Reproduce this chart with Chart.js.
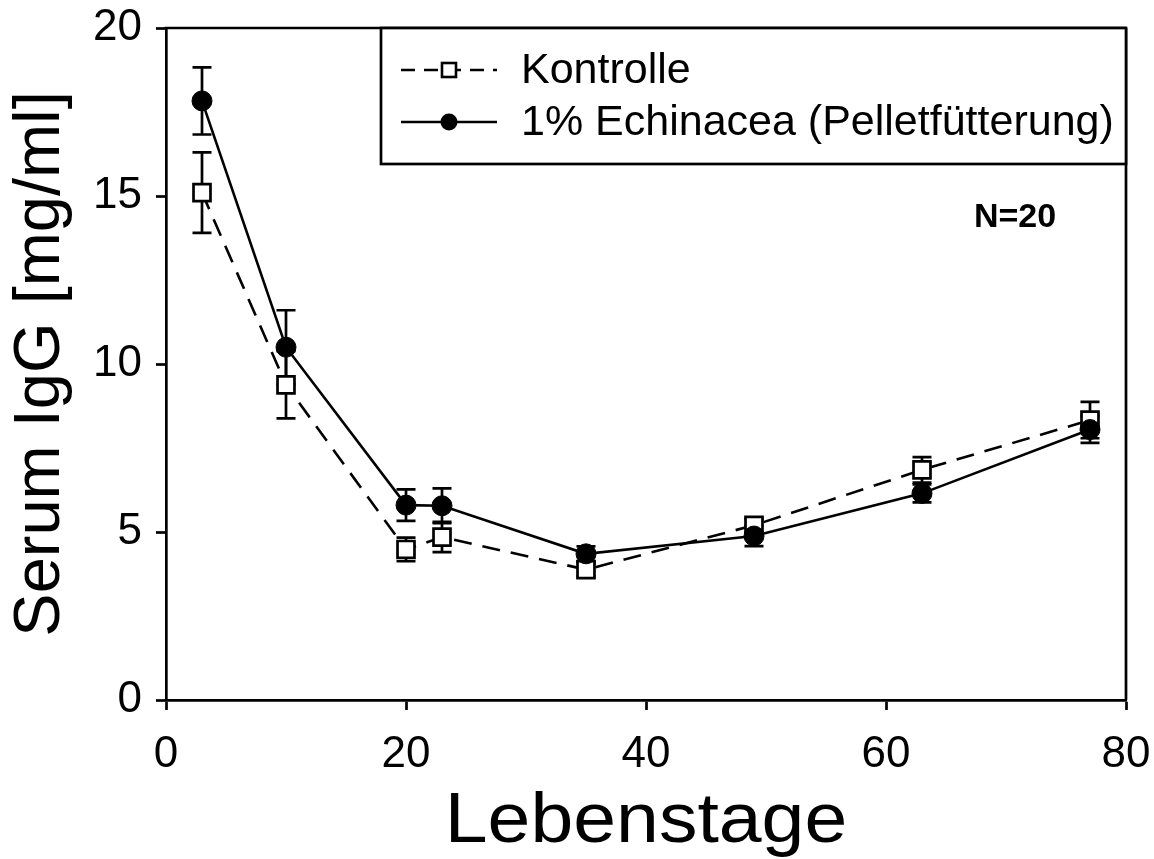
<!DOCTYPE html>
<html>
<head>
<meta charset="utf-8">
<script src="https://cdn.jsdelivr.net/npm/chart.js@4.4.1/dist/chart.umd.min.js"></script>
<style>
html,body{margin:0;padding:0;background:#fff;}
#wrap{width:1154px;height:859px;}
</style>
</head>
<body>
<div id="wrap"><canvas id="c" width="1154" height="859"></canvas></div>
<script>
// ---- data ----
const days = [3, 10, 20, 23, 35, 49, 63, 77];
const kontrolle = [15.1, 9.38, 4.48, 4.85, 3.88, 5.2, 6.85, 8.33];
const kontrolleErr = [1.2, 1.0, 0.35, 0.45, 0.2, 0.2, 0.38, 0.54];
const echinacea = [17.83, 10.5, 5.8, 5.78, 4.35, 4.88, 6.15, 8.05];
const echinaceaErr = [1.0, 1.1, 0.47, 0.52, 0.22, 0.3, 0.27, 0.4];
const xTicks = [0, 20, 40, 60, 80];
const yTicks = [0, 5, 10, 15, 20];
const labelKontrolle = 'Kontrolle';
const labelEchinacea = '1% Echinacea (Pelletfütterung)';
const annotation = 'N=20';
const xTitle = 'Lebenstage';
const yTitle = 'Serum IgG [mg/ml]';

const FONT = "'Liberation Sans', Arial, sans-serif";
const toPts = (xs, ys) => xs.map((x, i) => ({x: x, y: ys[i]}));

const errorBars = {
  id: 'errorBars',
  beforeDatasetsDraw(chart) {
    const ctx = chart.ctx, xs = chart.scales.x, ys = chart.scales.y;
    const sets = [[kontrolle, kontrolleErr], [echinacea, echinaceaErr]];
    ctx.save();
    ctx.strokeStyle = '#000';
    ctx.lineWidth = 2.7;
    ctx.setLineDash([]);
    sets.forEach(([vals, errs]) => {
      days.forEach((d, i) => {
        const px = xs.getPixelForValue(d);
        const top = ys.getPixelForValue(vals[i] + errs[i]);
        const bot = ys.getPixelForValue(vals[i] - errs[i]);
        ctx.beginPath();
        ctx.moveTo(px, top); ctx.lineTo(px, bot);
        ctx.moveTo(px - 9.5, top); ctx.lineTo(px + 9.5, top);
        ctx.moveTo(px - 9.5, bot); ctx.lineTo(px + 9.5, bot);
        ctx.stroke();
      });
    });
    ctx.restore();
  }
};

const frameAndLegend = {
  id: 'frameAndLegend',
  afterDraw(chart) {
    const ctx = chart.ctx, a = chart.chartArea;
    ctx.save();
    ctx.strokeStyle = '#000';
    ctx.lineWidth = 2.7;
    ctx.setLineDash([]);
    ctx.beginPath();
    ctx.moveTo(a.left - 1.3, a.top); ctx.lineTo(a.right, a.top);
    ctx.moveTo(a.right, a.top); ctx.lineTo(a.right, a.bottom);
    ctx.stroke();
    // legend box
    const bx = 381, by = a.top, bw = a.right - 381, bh = 136;
    ctx.fillStyle = '#fff';
    ctx.fillRect(bx, by, bw, bh);
    ctx.strokeRect(bx, by, bw, bh);
    // Kontrolle sample
    const y1 = 70, y2 = 122;
    ctx.lineWidth = 2.6;
    ctx.setLineDash([14, 9]);
    ctx.beginPath(); ctx.moveTo(401, y1); ctx.lineTo(497, y1); ctx.stroke();
    ctx.setLineDash([]);
    ctx.fillStyle = '#fff';
    ctx.fillRect(442, y1 - 7, 14, 14);
    ctx.strokeRect(442, y1 - 7, 14, 14);
    // Echinacea sample
    ctx.beginPath(); ctx.moveTo(401, y2); ctx.lineTo(497, y2); ctx.stroke();
    ctx.fillStyle = '#000';
    ctx.beginPath(); ctx.arc(449, y2, 8.5, 0, Math.PI * 2); ctx.fill();
    // texts
    ctx.fillStyle = '#000';
    ctx.font = '43px ' + FONT;
    ctx.textAlign = 'left';
    ctx.textBaseline = 'middle';
    ctx.fillText(labelKontrolle, 521, y1 + 1);
    ctx.fillText(labelEchinacea, 521, y2 + 1);
    ctx.font = 'bold 34px ' + FONT;
    ctx.textAlign = 'center';
    ctx.fillText(annotation, 1015, 218);
    // x axis title
    ctx.font = '70px ' + FONT;
    ctx.textAlign = 'center';
    ctx.textBaseline = 'alphabetic';
    const cx = (a.left + a.right) / 2;
    ctx.translate(cx, 842);
    ctx.scale(1.1, 1);
    ctx.fillText(xTitle, 0, 0);
    ctx.restore();
  }
};

new Chart(document.getElementById('c'), {
  type: 'line',
  data: {
    datasets: [
      {
        label: labelKontrolle,
        data: toPts(days, kontrolle),
        borderColor: '#000',
        borderWidth: 2.6,
        borderDash: [18, 11],
        backgroundColor: '#fff',
        pointStyle: 'rect',
        pointRadius: 12,
        pointBorderWidth: 2.7,
        pointBorderColor: '#000',
        pointBackgroundColor: '#fff',
        tension: 0,
        order: 2
      },
      {
        label: labelEchinacea,
        data: toPts(days, echinacea),
        borderColor: '#000',
        borderWidth: 2.6,
        backgroundColor: '#000',
        pointStyle: 'circle',
        pointRadius: 10,
        pointBorderWidth: 1,
        pointBorderColor: '#000',
        pointBackgroundColor: '#000',
        tension: 0,
        order: 1
      }
    ]
  },
  options: {
    responsive: false,
    animation: false,
    devicePixelRatio: 1,
    layout: {padding: {top: 28, right: 28, left: 0, bottom: 0}},
    plugins: {legend: {display: false}, tooltip: {enabled: false}},
    scales: {
      x: {
        type: 'linear',
        min: 0, max: 80,
        afterBuildTicks: s => { s.ticks = xTicks.map(v => ({value: v})); },
        afterFit: s => { s.height = 159; s.paddingLeft = 0; s.paddingRight = 0; },
        ticks: {color: '#000', font: {family: FONT, size: 44}, padding: 18, maxRotation: 0},
        grid: {drawOnChartArea: false, drawTicks: true, tickLength: 10, color: '#000', tickWidth: 2.7},
        border: {display: true, color: '#000', width: 2.7},
        title: {display: false, text: xTitle}
      },
      y: {
        type: 'linear',
        min: 0, max: 20,
        afterBuildTicks: s => { s.ticks = yTicks.map(v => ({value: v})); },
        afterFit: s => { s.width = 166; s.paddingTop = 0; s.paddingBottom = 0; },
        ticks: {color: '#000', font: {family: FONT, size: 44}, padding: 14},
        grid: {drawOnChartArea: false, drawTicks: true, tickLength: 10, color: '#000', tickWidth: 2.7},
        border: {display: true, color: '#000', width: 2.7},
        title: {display: true, text: yTitle, color: '#000', font: {family: FONT, size: 65}, padding: {top: 2, bottom: 0}}
      }
    }
  },
  plugins: [errorBars, frameAndLegend]
});
</script>
</body>
</html>
